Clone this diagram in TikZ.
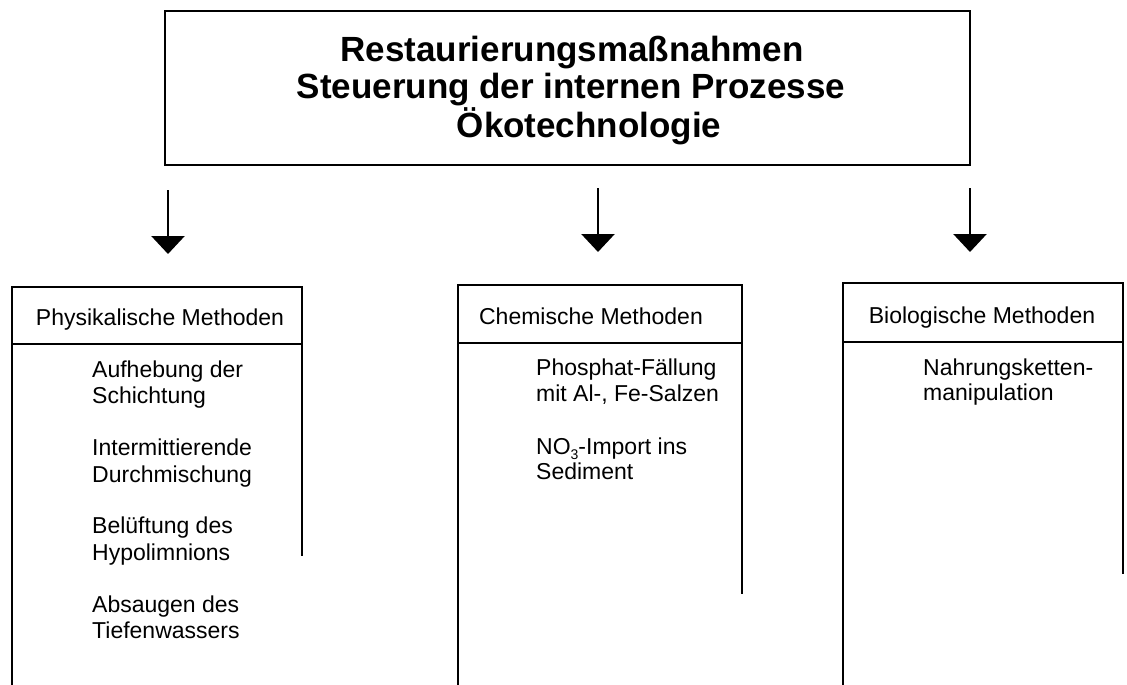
\documentclass[tikz,border=0pt]{standalone}
\usepackage{fontspec}
\setmainfont{Liberation Sans}
\usetikzlibrary{arrows.meta}
% small, lowered index digit as used in chemical formulas
\newcommand{\lowidx}[1]{\raisebox{-0.22em}{\fontsize{14}{14}\selectfont #1}}
\begin{document}
\begin{tikzpicture}[x=1pt,y=-1pt,
  frame/.style={line width=2.2pt, line cap=rect},
  titlefont/.style={font=\fontsize{35}{37.5}\selectfont\bfseries, anchor=base, inner sep=0pt},
  headtext/.style={font=\fontsize{23}{26}\selectfont, anchor=base, inner sep=0pt},
  item/.style={font=\fontsize{23}{26}\selectfont, anchor=base west, inner sep=0pt},
  down/.style={line width=2.7pt, -{Triangle[length=18pt,width=33pt]}},
]
\useasboundingbox (0,0) rectangle (1127,685);

% headline box
\node[draw, line width=2.2pt, outer sep=0pt, minimum width=805pt, minimum height=154pt,
      anchor=north west, inner sep=0pt] (title) at (165,11) {};
\node[titlefont] (t1) at (572,62) {Restaurierungsmaßnahmen};
\node[titlefont] (t2) at (571,98) {Steuerung der internen Prozesse};
\node[titlefont] (t3) at (589,137) {Ökotechnologie};

% arrows to the three groups of methods
\coordinate (a1) at (168,190); \coordinate (b1) at (168,254);
\coordinate (a2) at (598,188); \coordinate (b2) at (598,252);
\coordinate (a3) at (970,188); \coordinate (b3) at (970,252);
\draw[down] (a1) -- (b1);
\draw[down] (a2) -- (b2);
\draw[down] (a3) -- (b3);

% physical methods
\draw[frame] (12,685) -- (12,287) -- (302,287) -- (302,555);
\draw[frame] (12,344) -- (302,344);
\node[headtext] (phys) at (160,325) {Physikalische Methoden};
\node[item] (p1) at (92,377) {Aufhebung der};
\node[item] (p2) at (92,403) {Schichtung};
\node[item] (p3) at (92,455) {Intermittierende};
\node[item] (p4) at (92,482) {Durchmischung};
\node[item] (p5) at (92,533) {Belüftung des};
\node[item] (p6) at (92,560) {Hypolimnions};
\node[item] (p7) at (92,612) {Absaugen des};
\node[item] (p8) at (92,638) {Tiefenwassers};

% chemical methods
\draw[frame] (458,685) -- (458,285) -- (742,285) -- (742,593);
\draw[frame] (458,343) -- (742,343);
\node[headtext] (chem) at (591,324) {Chemische Methoden};
\node[item] (c1) at (536,375) {Phosphat-Fällung};
\node[item] (c2) at (536,401) {mit Al-, Fe-Salzen};
\node[item] (c3) at (536,454) {NO\lowidx{3}-Import ins};
\node[item] (c4) at (536,479) {Sediment};

% biological methods
\draw[frame] (843,685) -- (843,283) -- (1123,283) -- (1123,573);
\draw[frame] (843,342) -- (1123,342);
\node[headtext] (bio) at (982,323) {Biologische Methoden};
\node[item] (b1t) at (923,375) {Nahrungsketten-};
\node[item] (b2t) at (923,400) {manipulation};
\end{tikzpicture}
\end{document}
